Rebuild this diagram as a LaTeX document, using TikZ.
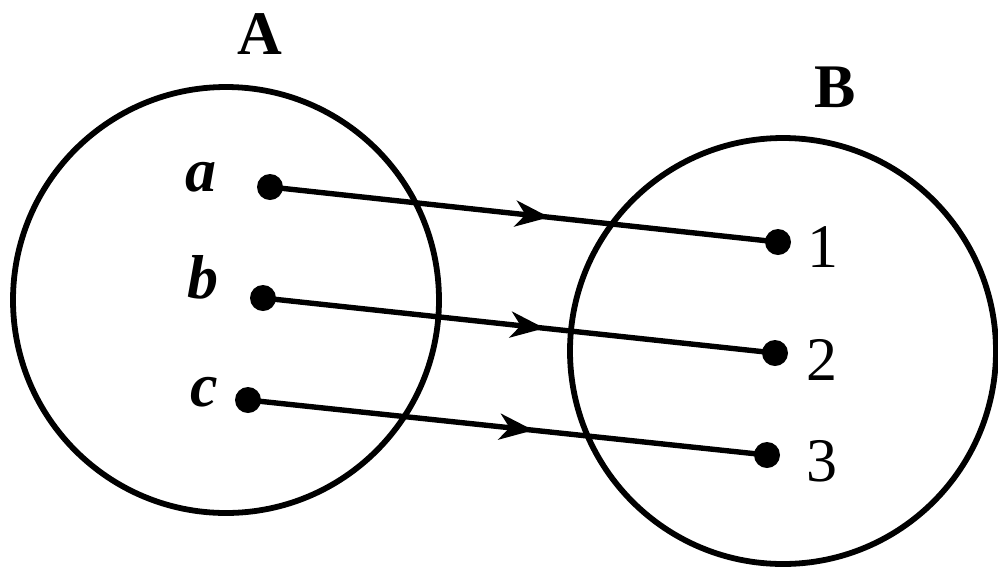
\documentclass[tikz,border=0pt]{standalone}
\usepackage{fontspec}
\setmainfont{Liberation Serif}
\usetikzlibrary{arrows.meta,decorations.markings}
\begin{document}
\begin{tikzpicture}[x=0.5pt,y=-0.5pt,
  setcircle/.style={draw,circle,line width=2.9pt,inner sep=0pt,minimum size=213pt},
  elemdot/.style={circle,fill=black,inner sep=0pt,minimum size=13pt},
  lbl/.style={inner sep=0pt,font=\fontsize{31}{36}\selectfont},
  maparrow/.style={line width=2.7pt,postaction={decorate},
    decoration={markings,mark=at position 0.55 with {\arrow{Stealth[length=17pt,width=13pt,inset=5pt]}}}}]
\useasboundingbox (0,0) rectangle (998,570);
\node[setcircle] (setA) at (226,300) {};
\node[setcircle] (setB) at (783,351) {};
\node[lbl,font=\fontsize{31}{36}\selectfont\bfseries] (labA) at (260,34) {A};
\node[lbl,font=\fontsize{31}{36}\selectfont\bfseries] (labB) at (835,87) {B};
\node[elemdot] (a) at (270,187) {};
\node[elemdot] (b) at (263,298) {};
\node[elemdot] (c) at (248,400) {};
\node[elemdot] (p1) at (778,242) {};
\node[elemdot] (p2) at (775,353) {};
\node[elemdot] (p3) at (767,455) {};
\node[lbl,font=\fontsize{31}{36}\selectfont\bfseries\itshape] (la) at (201,177) {a};
\node[lbl,font=\fontsize{31}{36}\selectfont\bfseries\itshape] (lb) at (203,277) {b};
\node[lbl,font=\fontsize{31}{36}\selectfont\bfseries\itshape] (lc) at (204,392) {c};
\node[lbl] (l1) at (823,247) {1};
\node[lbl] (l2) at (822,360) {2};
\node[lbl] (l3) at (822,461) {3};
\draw[maparrow] (a.center) -- (p1.center);
\draw[maparrow] (b.center) -- (p2.center);
\draw[maparrow] (c.center) -- (p3.center);
\end{tikzpicture}
\end{document}
